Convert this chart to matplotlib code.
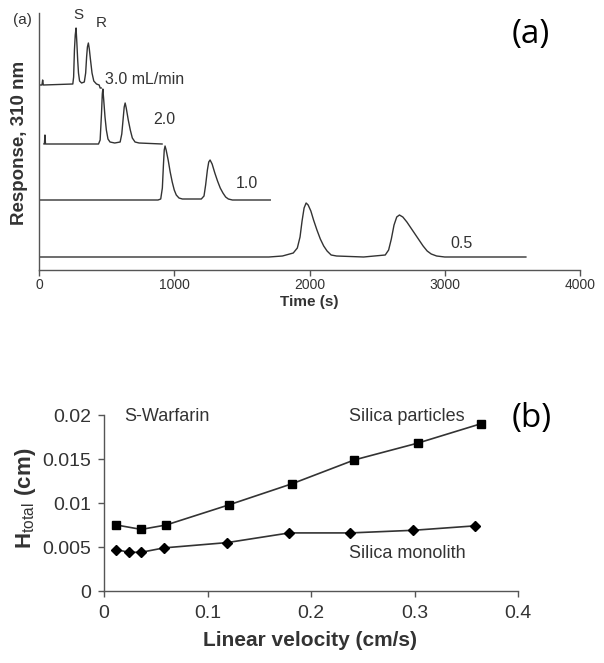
import matplotlib
matplotlib.use('Agg')
import matplotlib.pyplot as plt

# ---- panel (a): chromatograms at four flow rates ----
flow_labels = ['3.0 mL/min', '2.0', '1.0', '0.5']
trace_offsets = [185, 126, 70, 13]

t_30 = [7, 22, 27, 32, 250, 256, 262, 268, 274, 280, 286, 292, 300, 315, 335,
        345, 352, 358, 365, 372, 380, 392, 405, 425, 445, 452, 460]
r_30 = [0, 0, 5, 0, 1, 8, 35, 50, 57, 42, 25, 12, 4, 2, 3,
        12, 28, 38, 42, 36, 26, 12, 4, 1, 0, -3, -3]

t_20 = [37, 40, 44, 48, 440, 452, 462, 468, 472, 478, 488, 498, 510, 525, 560,
        600, 612, 622, 630, 637, 645, 660, 675, 690, 710, 740, 910]
r_20 = [0, 0, 9, 0, 0, 4, 30, 50, 55, 45, 27, 14, 5, 2, 1,
        2, 10, 25, 37, 41, 36, 24, 14, 6, 2, 1, 0]

t_10 = [0, 880, 900, 912, 920, 926, 932, 940, 955, 970, 985, 1000, 1015, 1035,
        1060, 1200, 1220, 1232, 1245, 1255, 1265, 1280, 1300, 1320, 1340, 1360,
        1380, 1400, 1430, 1710]
r_10 = [0, 0, 1, 12, 35, 50, 54, 50, 40, 28, 18, 10, 5, 2,
        1, 1, 4, 15, 30, 38, 40, 36, 27, 19, 12, 7,
        3, 1, 0, 0]

t_05 = [0, 1700, 1800, 1880, 1910, 1930, 1945, 1960, 1975, 1990, 2010, 2030,
        2055, 2080, 2105, 2130, 2160, 2200, 2400, 2560, 2585, 2605, 2625, 2645,
        2665, 2690, 2720, 2750, 2780, 2810, 2840, 2870, 2900, 2940, 3000, 3600]
r_05 = [0, 0, 1, 4, 9, 20, 36, 49, 54, 52, 46, 37,
        27, 18, 11, 6, 2, 1, 0, 2, 7, 18, 32, 40,
        42, 40, 35, 29, 23, 17, 11, 6, 3, 1, 0, 0]

time_ticks = [0, 1000, 2000, 3000, 4000]

# ---- panel (b): plate height vs linear velocity ----
vel_particles = [0.012, 0.036, 0.06, 0.121, 0.182, 0.242, 0.303, 0.364]
h_particles = [0.0075, 0.0070, 0.0075, 0.0098, 0.0122, 0.0149, 0.0168, 0.0190]
vel_monolith = [0.012, 0.024, 0.036, 0.058, 0.119, 0.179, 0.238, 0.299, 0.358]
h_monolith = [0.0047, 0.0044, 0.0044, 0.0049, 0.0055, 0.0066, 0.0066, 0.0069, 0.0074]

vel_ticks = [0, 0.1, 0.2, 0.3, 0.4]
vel_ticklabels = ['0', '0.1', '0.2', '0.3', '0.4']
h_ticks = [0, 0.005, 0.01, 0.015, 0.02]
h_ticklabels = ['0', '0.005', '0.01', '0.015', '0.02']

plt.rcParams['font.family'] = ['Liberation Sans', 'DejaVu Sans']
plt.rcParams['mathtext.fontset'] = 'custom'
plt.rcParams['mathtext.rm'] = 'Liberation Sans'
plt.rcParams['mathtext.bf'] = 'Liberation Sans:bold'

W, H = 604, 663
fig = plt.figure(figsize=(W / 100, H / 100), dpi=100)


def fpos(x, y):
    # pixel position -> figure fraction
    return x / W, 1 - y / H


ink = '#333333'
spine_col = '#555555'

# ---------------- top panel ----------------
ax1 = fig.add_axes([39 / W, 1 - 270 / H, 541 / W, 257 / H])
traces = [(t_30, r_30), (t_20, r_20), (t_10, r_10), (t_05, r_05)]
for (t, r), off in zip(traces, trace_offsets):
    ax1.plot(t, [v + off for v in r], color=ink, lw=1.0)

ax1.set_xlim(0, 4000)
ax1.set_ylim(0, 257)
ax1.set_xticks(time_ticks)
ax1.set_yticks([])
for s in ['top', 'right']:
    ax1.spines[s].set_visible(False)
for s in ['left', 'bottom']:
    ax1.spines[s].set_color(spine_col)
    ax1.spines[s].set_linewidth(1.0)
ax1.tick_params(axis='x', direction='out', length=4, width=1, color=spine_col,
                labelsize=10, labelcolor=ink, pad=2)

label_pos = [(488, 190), (843, 150), (1457, 87), (3039, 26)]
for lab, (x, y) in zip(flow_labels, label_pos):
    ax1.text(x, y, lab, fontsize=11.5, color=ink, ha='left', va='center')
ax1.text(292, 255, 'S', fontsize=11, color=ink, ha='center', va='center')
ax1.text(458, 247, 'R', fontsize=11, color=ink, ha='center', va='center')

fig.text(*fpos(22, 20), '(a)', fontsize=11, color=ink, ha='center', va='center')
fig.text(*fpos(309, 302), 'Time (s)', fontsize=11, fontweight='bold',
         color=ink, ha='center', va='center')
fig.text(*fpos(20, 143), 'Response, 310 nm', fontsize=13.5, fontweight='bold',
         color=ink, ha='center', va='center', rotation=90)
fig.text(*fpos(531, 34), '(a)', fontsize=24, family='Open Sans',
         color='black', ha='center', va='center')

# ---------------- bottom panel ----------------
ax2 = fig.add_axes([104 / W, 1 - 591 / H, 414 / W, 176 / H])
ax2.plot(vel_particles, h_particles, color=ink, lw=1.2, marker='s',
         markersize=5.5, markerfacecolor='black', markeredgecolor='black')
ax2.plot(vel_monolith, h_monolith, color=ink, lw=1.2, marker='D',
         markersize=5, markerfacecolor='black', markeredgecolor='black')

ax2.set_xlim(0, 0.4)
ax2.set_ylim(0, 0.02)
ax2.set_xticks(vel_ticks)
ax2.set_xticklabels(vel_ticklabels)
ax2.set_yticks(h_ticks)
ax2.set_yticklabels(h_ticklabels)
for s in ['top', 'right']:
    ax2.spines[s].set_visible(False)
for s in ['left', 'bottom']:
    ax2.spines[s].set_color(spine_col)
    ax2.spines[s].set_linewidth(1.0)
ax2.tick_params(direction='out', length=4, width=1, color=spine_col,
                labelsize=14, labelcolor=ink)
ax2.tick_params(axis='x', pad=6)
ax2.tick_params(axis='y', pad=5)

ax2.text(0.0193, 0.0198, 'S-Warfarin', fontsize=13, color=ink, ha='left', va='center')
ax2.text(0.237, 0.0198, 'Silica particles', fontsize=13, color=ink, ha='left', va='center')
ax2.text(0.237, 0.0043, 'Silica monolith', fontsize=13, color=ink, ha='left', va='center')

fig.text(*fpos(310, 640), 'Linear velocity (cm/s)', fontsize=15, fontweight='bold',
         color=ink, ha='center', va='center')
fig.text(*fpos(25, 498), r'$\mathbf{H}_{\mathrm{total}}\ \mathbf{(cm)}$', fontsize=16,
         color=ink, ha='center', va='center', rotation=90)
fig.text(*fpos(532, 418), '(b)', fontsize=24, family='Open Sans',
         color='black', ha='center', va='center')

fig.savefig('out.png', dpi=100)
